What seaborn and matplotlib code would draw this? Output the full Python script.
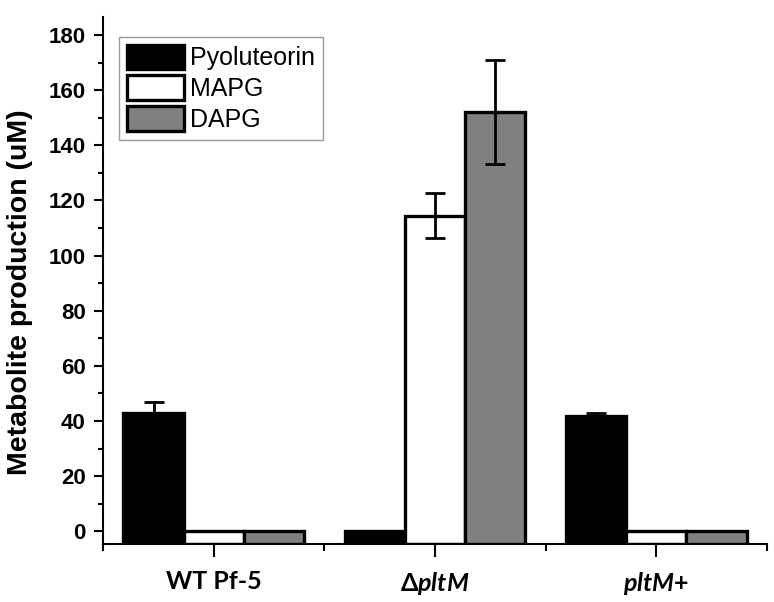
import matplotlib
matplotlib.use("Agg")
import matplotlib.pyplot as plt
import seaborn as sns
import pandas as pd
import numpy as np
from matplotlib.ticker import MultipleLocator

# ---- data ----
strains = ["WT Pf-5", r"Δ$\mathit{pltM}$", r"$\mathit{pltM}$+"]
metabolites = ["Pyoluteorin", "MAPG", "DAPG"]
pyoluteorin = [43.0, 0.0, 41.9]
mapg = [0.0, 114.5, 0.0]
dapg = [0.0, 152.1, 0.0]
pyoluteorin_err = [3.8, 0.0, 1.1]
mapg_err = [0.0, 8.0, 0.0]
dapg_err = [0.0, 18.9, 0.0]
colors = ["#000000", "#ffffff", "#808080"]

values = [pyoluteorin, mapg, dapg]
errors = [pyoluteorin_err, mapg_err, dapg_err]

rows = []
for m, vals in zip(metabolites, values):
    for s, v in zip(strains, vals):
        rows.append({"strain": s, "metabolite": m, "value": v})
df = pd.DataFrame(rows)

sns.set_theme(style="ticks")
plt.rcParams["font.family"] = ["Liberation Sans", "DejaVu Sans"]
plt.rcParams["mathtext.fontset"] = "custom"
plt.rcParams["mathtext.it"] = "Lato:italic:bold"
plt.rcParams["mathtext.rm"] = "Lato:bold"
plt.rcParams["mathtext.bf"] = "Lato:bold"
for k in ["text.color", "axes.labelcolor", "xtick.color", "ytick.color",
          "xtick.labelcolor", "ytick.labelcolor", "axes.edgecolor"]:
    plt.rcParams[k] = "black"

YMIN, YMAX = -4.6, 186.5

fig = plt.figure(figsize=(7.74, 6.02), dpi=100)
ax = fig.add_axes([103 / 774, 1 - 544 / 602, 664 / 774, 527 / 602])

sns.barplot(data=df, x="strain", y="value", hue="metabolite",
            order=strains, hue_order=metabolites, palette=colors,
            edgecolor="black", linewidth=2.4, errorbar=None,
            width=0.815, gap=0, saturation=1, ax=ax)

bar_containers = list(ax.containers)

# bars start from bottom of axis (as in original)
for cont in bar_containers:
    for bar in cont:
        h = bar.get_height()
        bar.set_y(YMIN)
        bar.set_height(h - YMIN)

for i, cont in enumerate(bar_containers):
    for j, bar in enumerate(cont):
        e = errors[i][j]
        if e > 0:
            ax.errorbar(bar.get_x() + bar.get_width() / 2, values[i][j], yerr=e,
                        fmt="none", ecolor="black", elinewidth=2.0,
                        capsize=7.5, capthick=2.0, zorder=5)

ax.set_ylim(YMIN, YMAX)
ax.set_xlim(-0.5, 2.5)
ax.yaxis.set_major_locator(MultipleLocator(20))
ax.yaxis.set_minor_locator(MultipleLocator(10))
ax.xaxis.set_minor_locator(MultipleLocator(0.5))
for sp in ["top", "right"]:
    ax.spines[sp].set_visible(False)
for sp in ["left", "bottom"]:
    ax.spines[sp].set_linewidth(1.5)
    ax.spines[sp].set_color("black")

ax.tick_params(axis="y", which="major", length=6.5, width=1.5, direction="out",
               pad=6, colors="black")
ax.tick_params(axis="y", which="minor", length=3.5, width=1.5, direction="out",
               colors="black")
ax.tick_params(axis="x", which="major", length=9, width=1.5, direction="out",
               pad=10, colors="black")
ax.tick_params(axis="x", which="minor", length=5, width=1.5, direction="out",
               colors="black")
ax.set_yticks(np.arange(0, 181, 20))
ax.set_yticklabels([str(v) for v in range(0, 181, 20)], fontweight="bold", fontsize=16)
ax.set_xticks(range(len(strains)))
ax.set_xticklabels(strains, fontweight="bold", fontsize=18, family=["Lato", "DejaVu Sans"])

ax.set_xlabel("")
ax.set_ylabel("Metabolite production (uM)", fontsize=20.5, fontweight="bold",
              color="black")
ax.yaxis.set_label_coords(-0.105, 0.478)

leg = ax.legend(loc="upper left", bbox_to_anchor=(16 / 664, 1 - 20 / 527),
                borderaxespad=0, frameon=True, fancybox=False, shadow=False,
                fontsize=18, handlelength=2.3, handleheight=1.15,
                labelspacing=0.2, handletextpad=0.25, borderpad=0.3)
leg.get_frame().set_edgecolor("#808080")
leg.get_frame().set_linewidth(1.0)
for t in leg.get_texts():
    t.set_color("black")
for h in leg.legend_handles:
    h.set_edgecolor("black")
    h.set_linewidth(2.4)

fig.savefig("out.png", dpi=100)
